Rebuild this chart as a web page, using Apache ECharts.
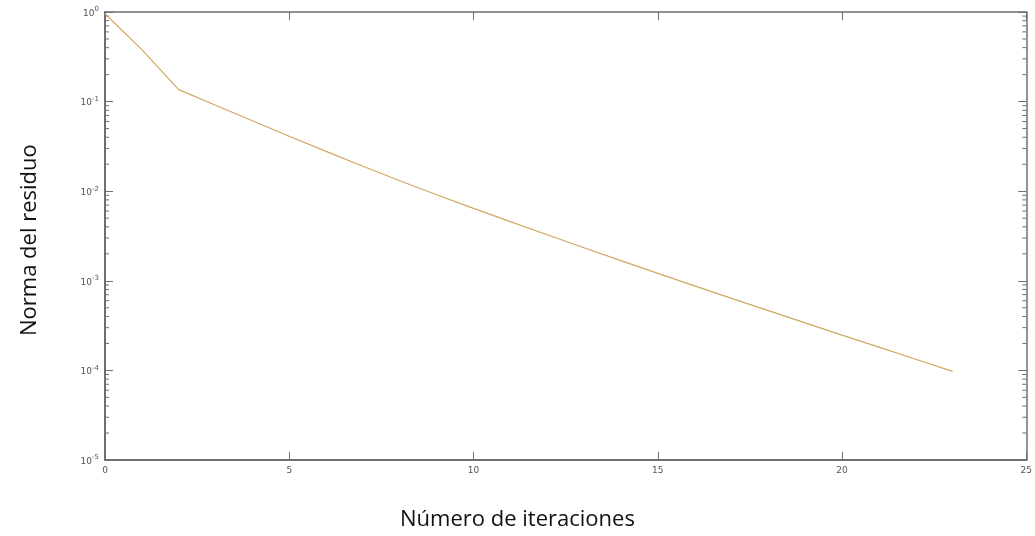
<!DOCTYPE html>
<html>
<head>
<meta charset="utf-8">
<script src="https://cdn.jsdelivr.net/npm/echarts@6/dist/echarts.min.js"></script>
<style>
  html, body { margin: 0; padding: 0; background: #fff; }
  #chart { width: 1035px; height: 536px; }
</style>
</head>
<body>
<div id="chart"></div>
<script>
// Iteration counter and residual norm after each iteration
const iterations = [0, 1, 2, 3, 4, 5, 6, 7, 8, 9, 10, 11, 12, 13, 14, 15, 16, 17, 18, 19, 20, 21, 22, 23];
const residuals = [
  0.955, 0.380, 0.136, 0.0912, 0.0612, 0.0411, 0.0278, 0.0190, 0.0131, 0.00912,
  0.00644, 0.00458, 0.00327, 0.00234, 0.00168, 0.00121, 0.000877, 0.000637,
  0.000465, 0.000339, 0.000248, 0.000182, 0.000133, 0.0000977
];

// Axis ranges and tick exponents
const xTicks = [0, 5, 10, 15, 20, 25];
const yExponents = [0, -1, -2, -3, -4, -5];

// Axis titles
const xTitle = 'Número de iteraciones';
const yTitle = 'Norma del residuo';

// Log-axis minor ticks (2..9 in each decade)
const minorTickValues = [];
for (let e = yExponents[yExponents.length - 1]; e < yExponents[0]; e++) {
  for (let m = 2; m <= 9; m++) minorTickValues.push(m * Math.pow(10, e));
}

const axisColor = '#6f6f6f';
const labelColor = '#555';
const tickFont = 'DejaVu Sans, Verdana, sans-serif';
const titleFont = 'Open Sans, sans-serif';

const chart = echarts.init(document.getElementById('chart'), null, { renderer: 'canvas' });

const tickStyle = { show: true, inside: true, length: 8, lineStyle: { color: axisColor, width: 1 } };

const option = {
  backgroundColor: '#ffffff',
  animation: false,
  grid: { left: 105, top: 12, right: 8, bottom: 76, containLabel: false },
  graphic: [
    {
      type: 'text',
      left: 400,
      top: 509,
      style: { text: xTitle, font: '22px ' + titleFont, fill: '#111' }
    },
    {
      type: 'text',
      x: 19,
      y: 336,
      rotation: Math.PI / 2,
      style: { text: yTitle, font: '22px ' + titleFont, fill: '#111', textVerticalAlign: 'top' }
    }
  ],
  xAxis: [
    {
      type: 'value',
      min: xTicks[0],
      max: xTicks[xTicks.length - 1],
      interval: 5,
      position: 'bottom',
      axisLine: { show: true, onZero: false, lineStyle: { color: axisColor, width: 2 } },
      axisTick: tickStyle,
      axisLabel: { color: labelColor, fontSize: 9, fontFamily: tickFont, margin: 6 },
      splitLine: { show: false }
    },
    {
      type: 'value',
      min: xTicks[0],
      max: xTicks[xTicks.length - 1],
      interval: 5,
      position: 'top',
      axisLine: { show: true, onZero: false, lineStyle: { color: axisColor, width: 1.5 } },
      axisTick: tickStyle,
      axisLabel: { show: false },
      splitLine: { show: false }
    }
  ],
  yAxis: [
    {
      type: 'log',
      logBase: 10,
      min: Math.pow(10, yExponents[yExponents.length - 1]),
      max: Math.pow(10, yExponents[0]),
      position: 'left',
      axisLine: { show: true, onZero: false, lineStyle: { color: axisColor, width: 2 } },
      axisTick: tickStyle,
      axisLabel: {
        margin: 6,
        formatter: function (v) {
          const e = Math.round(Math.log10(v));
          return '{b|10}{s|' + e + '}';
        },
        rich: {
          b: { fontSize: 9, fontFamily: tickFont, color: labelColor, lineHeight: 12, verticalAlign: 'bottom' },
          s: { fontSize: 7, fontFamily: tickFont, color: labelColor, lineHeight: 12, verticalAlign: 'top' }
        }
      },
      splitLine: { show: false }
    },
    {
      type: 'log',
      logBase: 10,
      min: Math.pow(10, yExponents[yExponents.length - 1]),
      max: Math.pow(10, yExponents[0]),
      position: 'right',
      axisLine: { show: true, onZero: false, lineStyle: { color: axisColor, width: 1.5 } },
      axisTick: tickStyle,
      axisLabel: { show: false },
      splitLine: { show: false }
    }
  ],
  series: [
    {
      // minor ticks of the log axis, drawn on both left and right edges
      type: 'custom',
      xAxisIndex: 0,
      yAxisIndex: 0,
      silent: true,
      clip: false,
      z: 1,
      data: minorTickValues.map(v => [0, v]),
      renderItem: function (params, api) {
        const y = api.coord([0, api.value(1)])[1];
        const cs = params.coordSys;
        const style = { stroke: axisColor, lineWidth: 1 };
        return {
          type: 'group',
          children: [
            { type: 'line', shape: { x1: cs.x, y1: y, x2: cs.x + 4, y2: y }, style: style },
            { type: 'line', shape: { x1: cs.x + cs.width, y1: y, x2: cs.x + cs.width - 4, y2: y }, style: style }
          ]
        };
      }
    },
    {
      name: 'Residuo',
      type: 'line',
      xAxisIndex: 0,
      yAxisIndex: 0,
      showSymbol: false,
      symbol: 'none',
      z: 3,
      lineStyle: { color: '#cfa862', width: 1.2 },
      data: iterations.map((it, i) => [it, residuals[i]])
    }
  ]
};

chart.setOption(option);
</script>
</body>
</html>
